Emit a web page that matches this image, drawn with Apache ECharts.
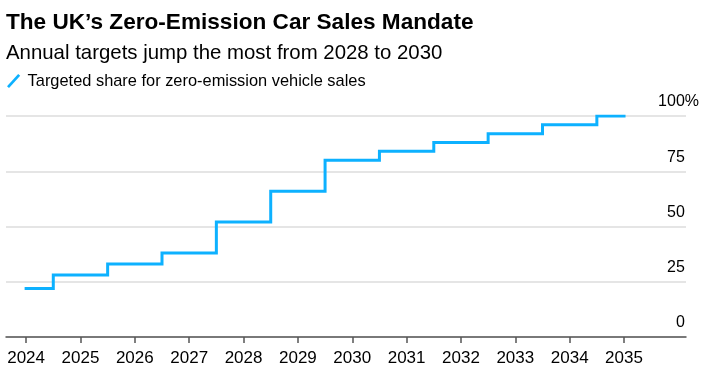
<!DOCTYPE html>
<html>
<head>
<meta charset="utf-8">
<script src="https://cdn.jsdelivr.net/npm/echarts@6/dist/echarts.min.js"></script>
<style>
html,body{margin:0;padding:0;background:#fff;}
#c{width:715px;height:373px;}
</style>
</head>
<body>
<div id="c"></div>
<script>
var years = [2024, 2025, 2026, 2027, 2028, 2029, 2030, 2031, 2032, 2033, 2034, 2035];
var targetShare = [22, 28, 33, 38, 52, 66, 80, 84, 88, 92, 96, 100];
var yTicks = [0, 25, 50, 75, 100];
var seriesName = 'Targeted share for zero-emission vehicle sales';

var FONT = '"Liberation Sans", Arial, Helvetica, sans-serif';
var chart = echarts.init(document.getElementById('c'));
chart.setOption({
  animation: false,
  backgroundColor: '#fff',
  title: [
    { text: 'The UK\u2019s Zero-Emission Car Sales Mandate', left: 1, top: 6,
      textStyle: { fontFamily: FONT, fontSize: 22.6, fontWeight: 'bold', color: '#000' } },
    { text: 'Annual targets jump the most from 2028 to 2030', left: 1, top: 38,
      textStyle: { fontFamily: FONT, fontSize: 20.4, fontWeight: 'normal', color: '#000' } }
  ],
  legend: {
    left: 2, top: 68,
    itemWidth: 14, itemHeight: 14, itemGap: 8,
    icon: 'path://M0,12 L11,0 L13,1.8 L2,13.8 Z',
    textStyle: { fontFamily: FONT, fontSize: 16.4, color: '#000', padding: [0,0,0,2] },
    data: [seriesName]
  },
  grid: { left: 6, right: 29, top: 116, bottom: 36, containLabel: false },
  xAxis: {
    type: 'value', min: 2023.63, max: 2036.14,
    splitLine: { show: false },
    axisLine: { show: true, lineStyle: { color: '#555', width: 1.5 } },
    axisTick: { show: true, customValues: years, length: 6, lineStyle: { color: '#555', width: 1.5 } },
    axisLabel: { customValues: years, margin: 13, fontFamily: FONT, fontSize: 17, color: '#000',
      formatter: function (v) { return String(v); } }
  },
  yAxis: {
    type: 'value', position: 'right', min: 0, max: 100, interval: 25,
    axisLine: { show: false }, axisTick: { show: false },
    splitLine: { show: true, lineStyle: { color: '#dcdcdc', width: 1.5 } },
    axisLabel: {
      inside: true, margin: -13, verticalAlign: 'bottom',
      fontFamily: FONT, fontSize: 16, color: '#000', padding: [0, 0, 6, 0],
      formatter: function (v) { return v === 100 ? v + '{p|%}' : v + '{h|%}'; },
      rich: {
        p: { fontFamily: FONT, fontSize: 16, color: '#000' },
        h: { fontFamily: FONT, fontSize: 16, color: 'rgba(0,0,0,0)' }
      }
    }
  },
  series: [{
    name: seriesName, type: 'line', step: 'middle',
    data: years.map(function (y, i) { return [y, targetShare[i]]; }),
    symbol: 'none', color: '#0DB1FF',
    lineStyle: { width: 3, color: '#0DB1FF', cap: 'square', join: 'miter' }
  }]
});
</script>
</body>
</html>
